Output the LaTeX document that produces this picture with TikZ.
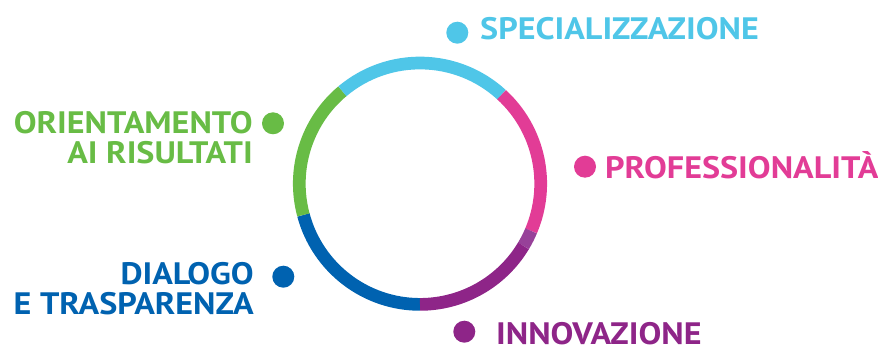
\documentclass[tikz,border=0pt]{standalone}
\usepackage{fontspec}
\setmainfont[FakeStretch=1.1]{PT Sans}
\usepackage{tikz}
\definecolor{celeste}{HTML}{4FC6E8}
\definecolor{rosa}{HTML}{E23C96}
\definecolor{viola}{HTML}{8E2588}
\definecolor{violachiaro}{HTML}{974199}
\definecolor{blu}{HTML}{0062B0}
\definecolor{verde}{HTML}{68BC45}
\tikzset{
  ring/.style={line width=12.7pt},
  dot/.style={circle,inner sep=0pt,minimum size=22pt},
  label/.style={inner sep=0pt,font=\bfseries\fontsize{31}{30}\selectfont}
}

\begin{document}
\begin{tikzpicture}[x=1pt,y=-1pt]
  \useasboundingbox (0,0) rectangle (878,347);
  \coordinate (c) at (420,183.7);
  % anello
  \draw[ring,blu] ([shift={(90:120.7)}]c) arc[start angle=90,end angle=165,radius=120.7];
  \draw[ring,verde] ([shift={(165:120.7)}]c) arc[start angle=165,end angle=230,radius=120.7];
  \draw[ring,celeste] ([shift={(230:120.7)}]c) arc[start angle=230,end angle=312.5,radius=120.7];
  \draw[ring,rosa] ([shift={(312.5:120.7)}]c) arc[start angle=312.5,end angle=383,radius=120.7];
  \draw[ring,violachiaro] ([shift={(23:120.7)}]c) arc[start angle=23,end angle=31,radius=120.7];
  \draw[ring,viola] ([shift={(31:120.7)}]c) arc[start angle=31,end angle=90,radius=120.7];

  \node[dot,fill=celeste] (dspec) at (457.3,32.7) {};
  \node[label,text=celeste,anchor=base west] (spec) at (480,40) {SPECIALIZZAZIONE};

  \node[dot,fill=rosa] (dprof) at (585,166.7) {};
  \node[label,text=rosa,anchor=base west] (prof) at (605,178.3) {PROFESSIONALITÀ};

  \node[dot,fill=viola] (dinno) at (464.3,331.7) {};
  \node[label,text=viola,anchor=base west] (inno) at (496,344.5) {INNOVAZIONE};

  \node[dot,fill=verde] (dorie) at (273,123.3) {};
  \node[label,text=verde,anchor=base east,align=right] (orie) at (253,163.3) {ORIENTAMENTO\\AI RISULTATI};

  \node[dot,fill=blu] (ddial) at (283.3,276.7) {};
  \node[label,text=blu,anchor=base east,align=right] (dial) at (254,315) {DIALOGO\\E TRASPARENZA};
\end{tikzpicture}
\end{document}
